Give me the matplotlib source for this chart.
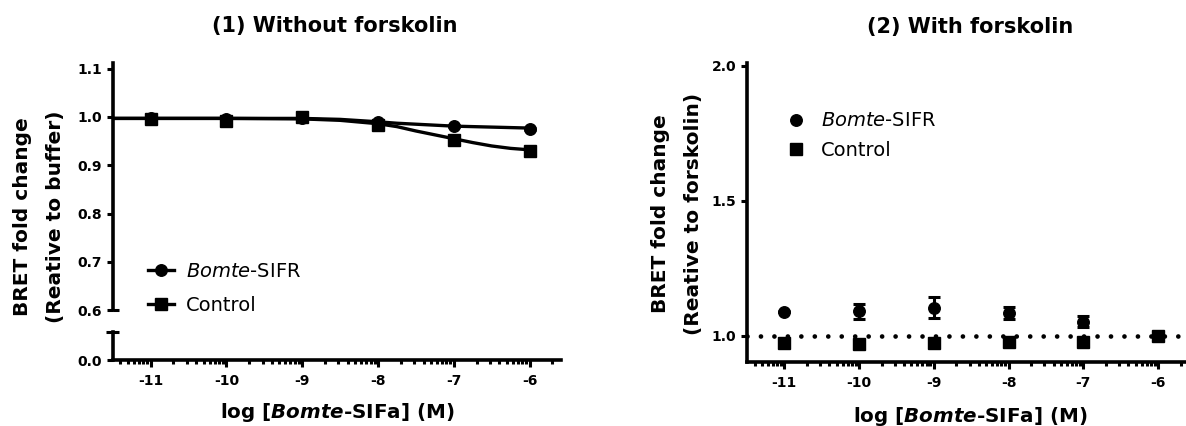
import matplotlib
matplotlib.use("Agg")
import numpy as np
import matplotlib.pyplot as plt
from matplotlib.lines import Line2D
from matplotlib.ticker import FixedLocator, NullFormatter

plt.rcParams["font.family"] = ["DejaVu Sans"]
plt.rcParams["font.weight"] = "bold"
plt.rcParams["axes.unicode_minus"] = False
plt.rcParams["mathtext.fontset"] = "custom"
plt.rcParams["mathtext.rm"] = "DejaVu Sans:weight=normal"
plt.rcParams["mathtext.it"] = "DejaVu Sans:style=italic:weight=normal"
plt.rcParams["mathtext.bf"] = "DejaVu Sans:weight=bold"
plt.rcParams["mathtext.bfit"] = "DejaVu Sans:style=italic:weight=bold"

# ------------------------------------------------------------
# data
# ------------------------------------------------------------
log_conc = [-11, -10, -9, -8, -7, -6]
series_labels = [r"$\mathit{Bomte}$-SIFR", "Control"]

# (1) without forskolin
bomte_nofsk = [0.997, 0.996, 0.997, 0.990, 0.982, 0.976]
bomte_nofsk_err = [0.002, 0.002, 0.002, 0.002, 0.002, 0.002]
ctrl_nofsk = [0.996, 0.991, 0.999, 0.983, 0.953, 0.929]
ctrl_nofsk_err = [0.002, 0.006, 0.008, 0.003, 0.003, 0.003]

# fitted curves of panel (1)
fit_x = [-11.5, -11, -10, -9, -8.5, -8, -7.75, -7.5, -7.25, -7, -6.75, -6.5, -6.25, -6]
bomte_fit = [0.997, 0.997, 0.997, 0.997, 0.995, 0.990, 0.987, 0.985, 0.983, 0.981, 0.980, 0.979, 0.978, 0.977]
ctrl_fit = [0.997, 0.997, 0.997, 0.996, 0.993, 0.986, 0.980, 0.971, 0.963, 0.955, 0.947, 0.940, 0.935, 0.932]

# (2) with forskolin
bomte_fsk = [1.089, 1.091, 1.104, 1.083, 1.052, 1.000]
bomte_fsk_err = [0.002, 0.028, 0.040, 0.023, 0.021, 0.004]
ctrl_fsk = [0.972, 0.969, 0.974, 0.978, 0.978, 1.000]
ctrl_fsk_err = [0.002, 0.002, 0.002, 0.002, 0.002, 0.002]

yticks_1 = [0.6, 0.7, 0.8, 0.9, 1.0, 1.1]
yticks_2 = [1.0, 1.5, 2.0]

# ------------------------------------------------------------
W, H = 1186, 426
fig = plt.figure(figsize=(W / 100, H / 100), dpi=100)


def fx(px):
    return px / W


def fy(py):
    return 1 - py / H


LW = 2.4
TICK_W = 2.2
TICK_FS = 10
LEG_FS = 14
EB = dict(color="black", capsize=4.4, capthick=2.2, elinewidth=2.2, linestyle="none", clip_on=False)
minor_x = [d + np.log10(k) for d in range(-12, -5) for k in range(2, 10)]


def style_x(ax, xlim):
    ax.set_xlim(*xlim)
    ax.xaxis.set_major_locator(FixedLocator(log_conc))
    ax.xaxis.set_minor_locator(FixedLocator([m for m in minor_x if xlim[0] <= m <= xlim[1]]))
    ax.xaxis.set_minor_formatter(NullFormatter())
    ax.tick_params(axis="x", which="major", direction="out", length=4.8, width=TICK_W, labelsize=TICK_FS, pad=5)
    ax.tick_params(axis="x", which="minor", direction="out", length=2.7, width=TICK_W)


def style_y(ax, ticks):
    ax.set_yticks(ticks)
    ax.set_yticklabels([f"{t:.1f}" for t in ticks])
    ax.tick_params(axis="y", direction="out", length=4.3, width=TICK_W, labelsize=TICK_FS, pad=3.5)


# ============================================================
# PANEL 1 - broken y axis
# ============================================================
x0, x1 = fx(112.7), fx(561.4)
ax_top = fig.add_axes([x0, fy(310.3), x1 - x0, fy(63.3) - fy(310.3)])
ax_bot = fig.add_axes([x0, fy(360), x1 - x0, fy(332.3) - fy(360)])

for ax in (ax_top, ax_bot):
    ax.set_facecolor("none")
    for side in ("top", "right"):
        ax.spines[side].set_visible(False)
    for sp in ax.spines.values():
        sp.set_linewidth(2.6)

xlim1 = (-11.5, -5.58)
ax_top.set_xlim(*xlim1)
ax_top.set_ylim(0.6, 1.111)
ax_top.spines["bottom"].set_visible(False)
ax_top.tick_params(axis="x", which="both", bottom=False, labelbottom=False)
style_y(ax_top, yticks_1)

ax_bot.set_ylim(0, 1)
style_y(ax_bot, [0.0])
style_x(ax_bot, xlim1)

# break caps
ax_top.plot([0, 0.014], [0, 0], transform=ax_top.transAxes, color="black", lw=TICK_W,
            solid_capstyle="butt", clip_on=False)
ax_bot.plot([-0.014, 0.014], [1, 1], transform=ax_bot.transAxes, color="black", lw=TICK_W,
            solid_capstyle="butt", clip_on=False)

ax_top.plot(fit_x, bomte_fit, color="black", lw=LW, solid_capstyle="butt", zorder=3)
ax_top.plot(fit_x, ctrl_fit, color="black", lw=LW, solid_capstyle="butt", zorder=3)
ax_top.errorbar(log_conc, bomte_nofsk, yerr=bomte_nofsk_err, fmt="o", ms=8.3, zorder=4, **EB)
ax_top.errorbar(log_conc, ctrl_nofsk, yerr=ctrl_nofsk_err, fmt="s", ms=8.8, zorder=4, **EB)

h1 = [Line2D([], [], color="black", lw=LW, marker="o", ms=8.3),
      Line2D([], [], color="black", lw=LW, marker="s", ms=8.8)]
ax_top.legend(h1, series_labels, loc="center left", bbox_to_anchor=(0.0793, 0.089),
              frameon=False, borderpad=0, borderaxespad=0, handlelength=1.3, handletextpad=0.65,
              labelspacing=0.75, prop=dict(size=LEG_FS, weight="normal"))

# ============================================================
# PANEL 2
# ============================================================
ax2 = fig.add_axes([fx(747), fy(362.3), fx(1188) - fx(747), fy(63.3) - fy(362.3)])
ax2.set_facecolor("none")
for side in ("top", "right"):
    ax2.spines[side].set_visible(False)
for sp in ax2.spines.values():
    sp.set_linewidth(2.6)
ax2.set_ylim(0.901, 2.01)
style_y(ax2, yticks_2)
style_x(ax2, (-11.5, -5.6))

ax2.axhline(1.0, color="black", lw=3.4, linestyle=(0, (0.001, 2.85)), dash_capstyle="round", zorder=2)
ax2.errorbar(log_conc, bomte_fsk, yerr=bomte_fsk_err, fmt="o", ms=8.3, zorder=4, **EB)
ax2.errorbar(log_conc, ctrl_fsk, yerr=ctrl_fsk_err, fmt="s", ms=8.8, zorder=4, **EB)

h2 = [Line2D([], [], color="black", lw=0, marker="o", ms=8.3),
      Line2D([], [], color="black", lw=0, marker="s", ms=8.8)]
ax2.legend(h2, series_labels, loc="center left", bbox_to_anchor=(0.082, 0.758),
           frameon=False, borderpad=0, borderaxespad=0, handlelength=1.3, handletextpad=0.65,
           labelspacing=0.55, prop=dict(size=LEG_FS, weight="normal"))

# ============================================================
# TEXTS
# ============================================================
fig.text(fx(334.5), fy(26), "(1) Without forskolin", ha="center", va="center", fontsize=15)
fig.text(fx(970), fy(27), "(2) With forskolin", ha="center", va="center", fontsize=15)

fig.text(fx(23), fy(217), "BRET fold change", rotation=90, ha="center", va="center", fontsize=14.5)
fig.text(fx(56), fy(217), "(Reative to buffer)", rotation=90, ha="center", va="center", fontsize=14.5)
fig.text(fx(660), fy(214), "BRET fold change", rotation=90, ha="center", va="center", fontsize=14.5)
fig.text(fx(694), fy(214), "(Reative to forskolin)", rotation=90, ha="center", va="center", fontsize=14.5)

xlab = r"log [$\mathbfit{Bomte}$-SIFa] (M)"
fig.text(fx(337), fy(413), xlab, ha="center", va="center", fontsize=14.3)
fig.text(fx(970), fy(416), xlab, ha="center", va="center", fontsize=14.3)

fig.savefig("out.png", dpi=100)
